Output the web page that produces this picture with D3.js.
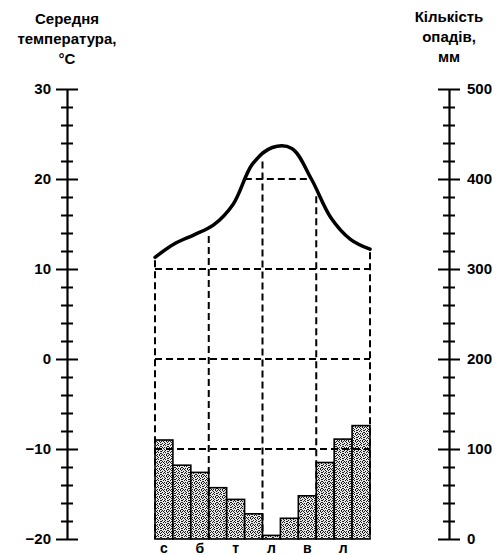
<!DOCTYPE html>
<html>
<head>
<meta charset="utf-8">
<script src="https://cdn.jsdelivr.net/npm/d3@7/dist/d3.min.js"></script>
<style>
  body { margin: 0; background: #fff; }
  svg { display: block; font-family: "Liberation Sans", Arial, sans-serif; }
</style>
</head>
<body>
<div id="chart"></div>
<script>
// місяці та підписи під стовпчиками
var months = ["січ", "лют", "бер", "кві", "тра", "чер", "лип", "сер", "вер", "жов", "лис", "гру"];
var monthLabels = ["с", "", "б", "", "т", "", "л", "", "в", "", "л", ""];

// середня температура, °C
var temperature = [11.3, 12.8, 13.8, 14.9, 17.2, 21.7, 23.5, 23.4, 20.0, 15.7, 13.3, 12.2];
// кількість опадів, мм
var precipitation = [110, 82, 74, 57, 44, 28, 4, 23, 48, 85, 111, 126];

var tempTicks = [-20, -10, 0, 10, 20, 30];
var precTicks = [0, 100, 200, 300, 400, 500];
var tempGrid = [-10, 0, 10];
var quarterEdges = [0, 3, 6, 9, 12];

var width = 500, height = 555;
var svg = d3.select("#chart").append("svg").attr("width", width).attr("height", height);

var top0 = 89, bottom0 = 539;
var left0 = 155, right0 = 370;
var axisL = 67, axisR = 449;

var yT = d3.scaleLinear().domain([-20, 30]).range([bottom0, top0]);
var yP = d3.scaleLinear().domain([0, 500]).range([bottom0, top0]);
var x = d3.scaleBand().domain(months).range([left0, right0]).paddingInner(0).paddingOuter(0);
var xp = d3.scalePoint().domain(months).range([left0, right0]);

var fmt = function (d) { return d < 0 ? "\u2212" + Math.abs(d) : String(d); };

// крапчаста заливка
var defs = svg.append("defs");
var pat = defs.append("pattern").attr("id", "stip")
    .attr("width", 7).attr("height", 7).attr("patternUnits", "userSpaceOnUse");
pat.append("rect").attr("width", 7).attr("height", 7).attr("fill", "#e6e6e6");
var dots = [[0,0],[3,1],[5,0],[1,2],[6,3],[2,4],[4,4],[0,5],[5,6],[3,6],[1,6],[6,5],[4,2],[2,0],[6,1],[3,3],[0,3]];
dots.forEach(function (p) {
    pat.append("rect").attr("x", p[0]).attr("y", p[1]).attr("width", 1).attr("height", 1).attr("fill", "#1a1a1a");
});

// заголовки осей
var titleL = ["Середня", "температура,", "°C"];
var titleR = ["Кількість", "опадів,", "мм"];
var titleY = [24, 44, 64];
svg.append("g").selectAll("text").data(titleL).join("text")
    .attr("x", axisL).attr("y", function (d, i) { return titleY[i]; })
    .attr("text-anchor", "middle").attr("font-size", 15).attr("font-weight", "bold")
    .text(function (d) { return d; });
svg.append("g").selectAll("text").data(titleR).join("text")
    .attr("x", axisR).attr("y", function (d, i) { return titleY[i] - 2; })
    .attr("text-anchor", "middle").attr("font-size", 15).attr("font-weight", "bold")
    .text(function (d) { return d; });

// стовпчики опадів
svg.append("g").selectAll("rect").data(precipitation).join("rect")
    .attr("x", function (d, i) { return x(months[i]); })
    .attr("y", function (d) { return yP(d); })
    .attr("width", x.bandwidth())
    .attr("height", function (d) { return yP(0) - yP(d); })
    .attr("fill", "url(#stip)")
    .attr("stroke", "#000").attr("stroke-width", 1.6);

// крива температури
var line = d3.line()
    .x(function (d, i) { return xp(months[i]); })
    .y(function (d) { return yT(d); })
    .curve(d3.curveCatmullRom.alpha(0.5));

var curve = svg.append("path")
    .datum(temperature)
    .attr("fill", "none").attr("stroke", "#000").attr("stroke-width", 3.5)
    .attr("stroke-linecap", "round")
    .attr("d", line);

// точки кривої для перетинів
var node = curve.node();
var total = node.getTotalLength();
var samples = [];
for (var s = 0; s <= total; s += 0.5) samples.push(node.getPointAtLength(s));
function curveYAt(px) {
    var best = samples[0];
    samples.forEach(function (p) { if (Math.abs(p.x - px) < Math.abs(best.x - px)) best = p; });
    return best.y;
}

// пунктирна сітка
var grid = svg.append("g").attr("fill", "none").attr("stroke", "#000")
    .attr("stroke-width", 2).attr("stroke-dasharray", "7,4");

grid.selectAll("line.h").data(tempGrid).join("line").attr("class", "h")
    .attr("x1", left0).attr("x2", right0)
    .attr("y1", function (d) { return yT(d); }).attr("y2", function (d) { return yT(d); });

var y20 = yT(20);
var above = samples.filter(function (p) { return p.y <= y20; });
grid.append("line")
    .attr("x1", d3.min(above, function (p) { return p.x; }))
    .attr("x2", d3.max(above, function (p) { return p.x; }))
    .attr("y1", y20).attr("y2", y20);

grid.selectAll("line.v").data(quarterEdges).join("line").attr("class", "v")
    .attr("x1", function (i) { return i < 12 ? x(months[i]) : x.range()[1]; })
    .attr("x2", function (i) { return i < 12 ? x(months[i]) : x.range()[1]; })
    .attr("y1", function (i) {
        var px = i < 12 ? x(months[i]) : x.range()[1];
        var gap = (i === 0 || i === 12) ? 3 : 8;
        return curveYAt(px) + gap;
    })
    .attr("y2", bottom0);

// підписи місяців
svg.append("g").selectAll("text").data(monthLabels).join("text")
    .attr("x", function (d, i) { return x(months[i]) + x.bandwidth() / 2; })
    .attr("y", 553)
    .attr("text-anchor", "middle").attr("font-size", 14).attr("font-weight", "bold")
    .text(function (d) { return d; });

// осі
function styleAxis(g, side) {
    g.select(".domain").attr("stroke-width", 2.2);
    g.selectAll(".tick line")
        .attr("stroke-width", 2)
        .attr("x1", function (d) { return (d % (side === "L" ? 10 : 100) === 0) ? -11 : -6; })
        .attr("x2", function (d) { return (d % (side === "L" ? 10 : 100) === 0) ? 11 : 6; });
    g.selectAll(".tick text")
        .attr("font-size", 15).attr("font-weight", "bold")
        .attr("font-family", "Liberation Sans, Arial, sans-serif")
        .attr("fill", "#000");
}

var axL = svg.append("g").attr("transform", "translate(" + axisL + ",0)")
    .call(d3.axisLeft(yT).tickValues(d3.range(-20, 31, 2)).tickSizeOuter(0).tickPadding(15)
        .tickFormat(function (d) { return tempTicks.indexOf(d) >= 0 ? fmt(d) : ""; }));
styleAxis(axL, "L");

var axR = svg.append("g").attr("transform", "translate(" + axisR + ",0)")
    .call(d3.axisRight(yP).tickValues(d3.range(0, 501, 20)).tickSizeOuter(0).tickPadding(18)
        .tickFormat(function (d) { return precTicks.indexOf(d) >= 0 ? fmt(d) : ""; }));
styleAxis(axR, "R");
axR.selectAll(".tick text").attr("x", 18);
axL.selectAll(".tick text").attr("x", -16);
</script>
</body>
</html>
